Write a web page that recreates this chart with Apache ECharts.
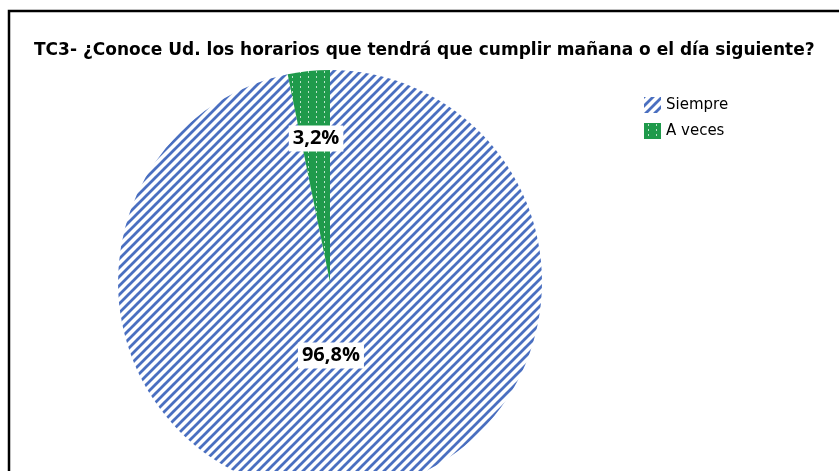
<!DOCTYPE html>
<html>
<head>
<meta charset="utf-8">
<script src="https://cdn.jsdelivr.net/npm/echarts@6/dist/echarts.min.js"></script>
<style>
  html, body { margin: 0; padding: 0; background: #fff; }
  #chart { width: 839px; height: 471px; }
</style>
</head>
<body>
<div id="chart"></div>
<script>
var titleText = "TC3- ¿Conoce Ud. los horarios que tendrá que cumplir mañana o el día siguiente?";
var categories = ["Siempre", "A veces"];
var values = [96.8, 3.2];

// patrón rayado azul
function stripePattern() {
  var s = 9;
  var c = document.createElement("canvas");
  c.width = s; c.height = s;
  var ctx = c.getContext("2d");
  ctx.fillStyle = "#fff";
  ctx.fillRect(0, 0, s, s);
  ctx.strokeStyle = "#4a6fc0";
  ctx.lineWidth = 2.8;
  ctx.beginPath();
  ctx.moveTo(-2, s + 2); ctx.lineTo(s + 2, -2);
  ctx.moveTo(-s - 2, s + 2); ctx.lineTo(2, -2);
  ctx.moveTo(s - 2, s + 2); ctx.lineTo(2 * s + 2, -2);
  ctx.stroke();
  return c;
}
// patrón verde punteado
function dotPattern() {
  var c = document.createElement("canvas");
  c.width = 8; c.height = 5;
  var ctx = c.getContext("2d");
  ctx.fillStyle = "#1f9a4b";
  ctx.fillRect(0, 0, 8, 5);
  ctx.fillStyle = "rgba(255,255,255,0.7)";
  ctx.fillRect(4, 1, 1, 2);
  return c;
}

var colors = [
  { image: stripePattern(), repeat: "repeat" },
  { image: dotPattern(), repeat: "repeat" }
];

var pieData = [];
for (var i = 0; i < categories.length; i++) {
  pieData.push({ name: categories[i], value: values[i], itemStyle: { color: colors[i] } });
}

var chart = echarts.init(document.getElementById("chart"));
var option = {
  animation: false,
  graphic: [{
    type: "rect",
    shape: { x: 9, y: 11, width: 860, height: 500 },
    style: { fill: "none", stroke: "#000", lineWidth: 2.5 },
    silent: true
  }],
  title: {
    text: titleText,
    left: 29,
    top: 37,
    textStyle: { fontFamily: "DejaVu Sans", fontWeight: "bold", fontSize: 17, color: "#000" }
  },
  legend: {
    orient: "vertical",
    left: 639,
    top: 92,
    icon: "rect",
    itemWidth: 17,
    itemHeight: 16,
    itemGap: 10,
    textStyle: { fontFamily: "DejaVu Sans", fontSize: 15, color: "#000" },
    data: categories
  },
  series: [{
    type: "pie",
    center: [330, 282],
    radius: 212,
    startAngle: 90,
    clockwise: true,
    data: pieData,
    label: {
      show: true,
      position: "inside",
      formatter: function (p) { return p.value.toFixed(1).replace(".", ",") + "%"; },
      fontFamily: "Open Sans",
      fontWeight: "bold",
      fontSize: 20,
      color: "#000",
      backgroundColor: "#fff",
      padding: [3, 4]
    },
    labelLine: { show: false },
    labelLayout: function (params) {
      if (params.dataIndex === 0) return { dx: -10, dy: -35 };
      return { dx: -3, dy: -35 };
    },
    itemStyle: { borderWidth: 0 },
    emphasis: { disabled: true }
  }]
};
chart.setOption(option);
</script>
</body>
</html>
